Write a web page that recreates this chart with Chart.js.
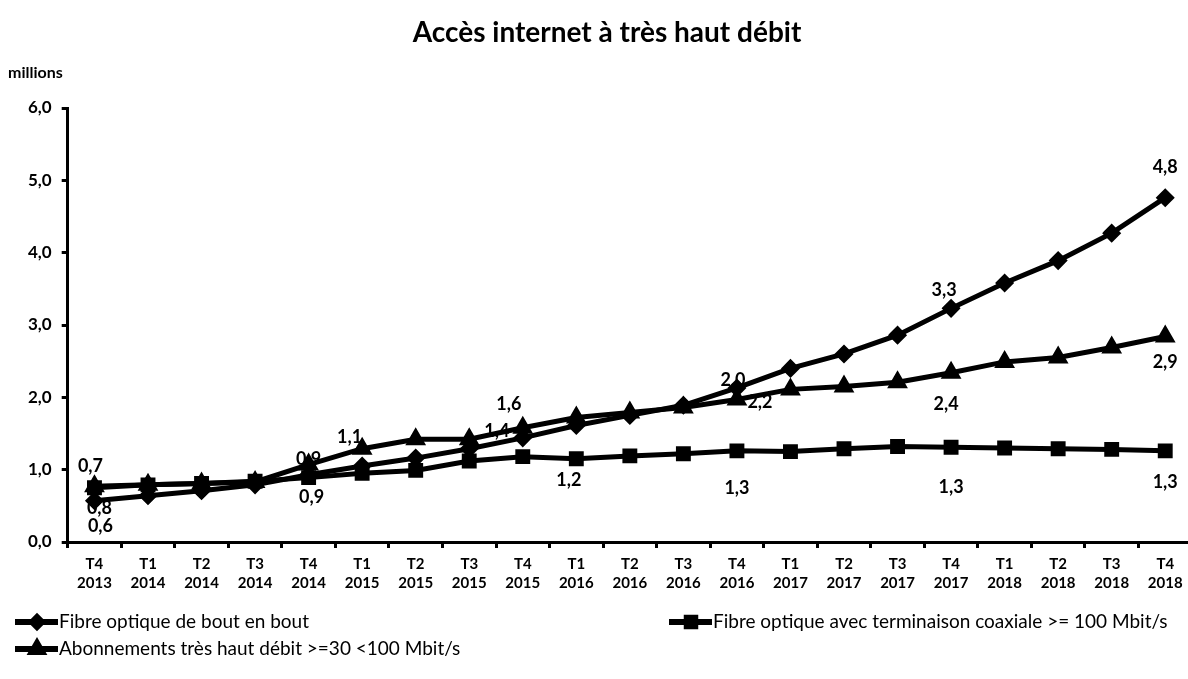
<!DOCTYPE html>
<html>
<head>
<meta charset="utf-8">
<script src="https://cdn.jsdelivr.net/npm/chart.js@4.4.1/dist/chart.umd.min.js"></script>
<style>
  html, body { margin: 0; padding: 0; background: #fff; overflow: hidden; }
  #wrap { width: 1204px; height: 679px; }
</style>
</head>
<body>
<div id="wrap"><canvas id="chart"></canvas></div>
<script>
// Données (millions d'accès)
const categories = [
  ['T4','2013'], ['T1','2014'], ['T2','2014'], ['T3','2014'], ['T4','2014'],
  ['T1','2015'], ['T2','2015'], ['T3','2015'], ['T4','2015'],
  ['T1','2016'], ['T2','2016'], ['T3','2016'], ['T4','2016'],
  ['T1','2017'], ['T2','2017'], ['T3','2017'], ['T4','2017'],
  ['T1','2018'], ['T2','2018'], ['T3','2018'], ['T4','2018']
];
const fibre = [0.57, 0.64, 0.71, 0.79, 0.93, 1.05, 1.16, 1.29, 1.44, 1.61, 1.75,
               1.89, 2.13, 2.40, 2.60, 2.86, 3.23, 3.58, 3.89, 4.27, 4.76];
const coax = [0.75, 0.79, 0.81, 0.84, 0.89, 0.95, 0.99, 1.12, 1.18, 1.15, 1.19,
              1.22, 1.26, 1.25, 1.29, 1.32, 1.31, 1.30, 1.29, 1.28, 1.26];
const thd = [0.77, 0.79, 0.81, 0.83, 1.07, 1.29, 1.42, 1.42, 1.58, 1.72, 1.79,
             1.86, 1.97, 2.11, 2.15, 2.21, 2.34, 2.49, 2.55, 2.69, 2.84];
const yTicks = [0, 1, 2, 3, 4, 5, 6];

// étiquettes affichées aux T4
const labelIndex = [0, 4, 8, 12, 16, 20];
const fibreLabels = ['0,6', '0,9', '1,4', '2,0', '3,3', '4,8'];
const coaxLabels = ['0,7', '0,9', '1,2', '1,3', '1,3', '1,3'];
const thdLabels = ['0,8', '1,1', '1,6', '2,2', '2,4', '2,9'];

const FONT = 'Lato, "Open Sans", sans-serif';

const pointLabels = {
  id: 'pointLabels',
  beforeDatasetsDraw(chart, args, opts) {
    const { ctx } = chart;
    ctx.save();
    ctx.fillStyle = '#000';
    ctx.font = 'bold 18px ' + FONT;
    ctx.textAlign = 'center';
    ctx.textBaseline = 'middle';
    chart.data.datasets.forEach((ds, di) => {
      const meta = chart.getDatasetMeta(di);
      const offs = opts.offsets[di];
      labelIndex.forEach((idx, k) => {
        const pt = meta.data[idx];
        ctx.fillText(ds.pointText[k], pt.x + offs[k][0], pt.y + offs[k][1]);
      });
    });
    ctx.restore();
  }
};

const extras = {
  id: 'extras',
  afterDraw(chart) {
    const { ctx } = chart;
    ctx.save();
    ctx.fillStyle = '#000';
    ctx.font = 'bold 28px ' + FONT;
    ctx.textAlign = 'center';
    ctx.textBaseline = 'middle';
    ctx.fillText('Accès internet à très haut débit', 607, 33);
    ctx.font = 'bold 16px ' + FONT;
    ctx.textAlign = 'left';
    ctx.fillText('millions', 8, 73);

    // légende
    const items = [
      { di: 0, x: 15, y: 622 },
      { di: 1, x: 669, y: 622 },
      { di: 2, x: 15, y: 649 }
    ];
    items.forEach(it => {
      const ds = chart.data.datasets[it.di];
      ctx.strokeStyle = '#000';
      ctx.lineWidth = 6;
      ctx.beginPath();
      ctx.moveTo(it.x, it.y);
      ctx.lineTo(it.x + 43, it.y);
      ctx.stroke();
      Chart.helpers.drawPoint(ctx, {
        pointStyle: ds.pointStyle, radius: ds.pointRadius - 1, rotation: 0, borderWidth: 1
      }, it.x + 22, it.y);
      ctx.fill();
      ctx.font = '19px ' + FONT;
      ctx.textBaseline = 'middle';
      ctx.fillText(ds.label, it.x + 44, it.y);
    });
    ctx.restore();
  }
};

new Chart(document.getElementById('chart'), {
  type: 'line',
  data: {
    labels: categories,
    datasets: [
      {
        label: 'Fibre optique de bout en bout',
        data: fibre,
        pointText: fibreLabels,
        pointStyle: 'rectRot',
        pointRadius: 6
      },
      {
        label: 'Fibre optique avec terminaison coaxiale >= 100 Mbit/s',
        data: coax,
        pointText: coaxLabels,
        pointStyle: 'rect',
        pointRadius: 7
      },
      {
        label: 'Abonnements très haut débit >=30 <100 Mbit/s',
        data: thd,
        pointText: thdLabels,
        pointStyle: 'triangle',
        pointRadius: 7
      }
    ].map(d => Object.assign(d, {
      borderColor: '#000',
      backgroundColor: '#000',
      pointBackgroundColor: '#000',
      pointBorderColor: '#000',
      borderWidth: 5,
      tension: 0,
      fill: false
    }))
  },
  options: {
    responsive: true,
    maintainAspectRatio: false,
    animation: false,
    layout: { padding: { top: 108, bottom: 80, left: 18, right: 0 } },
    plugins: {
      legend: { display: false },
      title: { display: false },
      tooltip: { enabled: false },
      pointLabels: {
        offsets: [
          [[6, 25], [0, -16], [-26, -7], [-4, -8], [-7, -18], [0, -31]],
          [[-4, -22], [3, 20], [46, 24], [0, 37], [0, 40], [0, 31]],
          [[5, 22], [41, -27], [-14, -24], [23, 3], [-5, 31], [0, 26]]
        ]
      }
    },
    scales: {
      x: {
        offset: true,
        border: { color: '#000', width: 3 },
        grid: { offset: true, drawOnChartArea: false, drawTicks: true, tickLength: 6, color: '#000', lineWidth: 3 },
        ticks: {
          color: '#000',
          maxRotation: 0,
          autoSkip: false,
          padding: 6,
          font: { family: FONT, size: 15, weight: 'bold', lineHeight: 1.3 }
        }
      },
      y: {
        min: 0,
        max: 6,
        afterBuildTicks: axis => { axis.ticks = yTicks.map(v => ({ value: v })); },
        border: { color: '#000', width: 3 },
        grid: { drawOnChartArea: false, tickLength: 6, color: '#000', lineWidth: 3 },
        ticks: {
          color: '#000',
          padding: 10,
          font: { family: FONT, size: 17, weight: 'bold' },
          callback: v => v.toFixed(1).replace('.', ',')
        }
      }
    }
  },
  plugins: [pointLabels, extras]
});
</script>
</body>
</html>
